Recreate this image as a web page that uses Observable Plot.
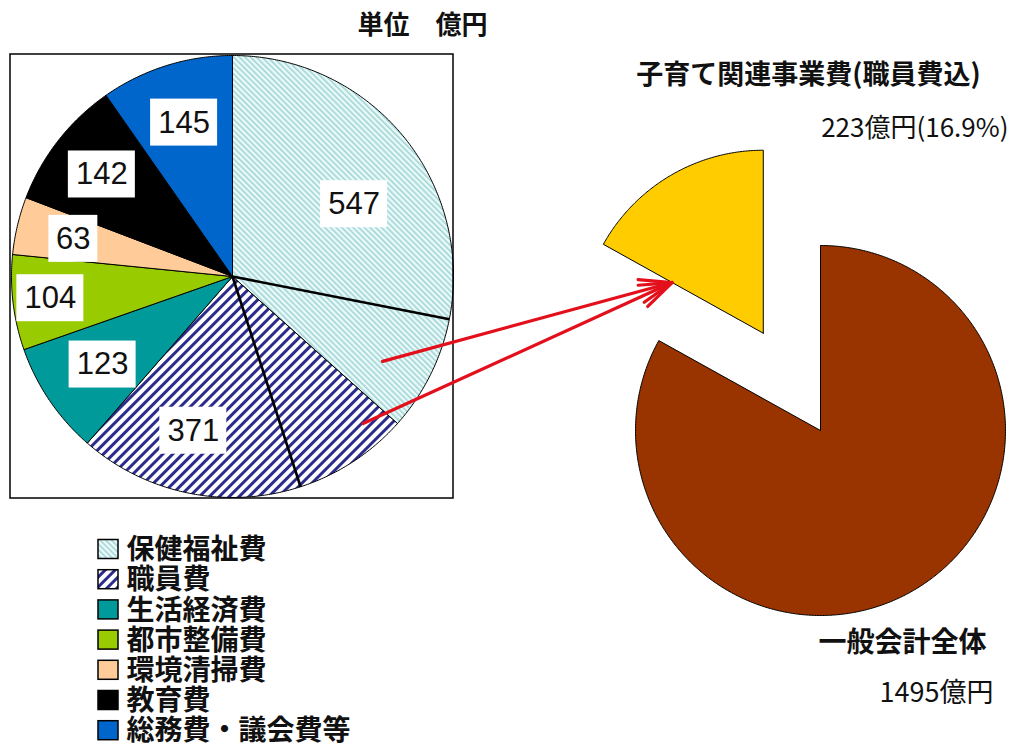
<!DOCTYPE html>
<html><head><meta charset="utf-8">
<script src="https://cdn.jsdelivr.net/npm/d3@7"></script>
<script src="https://cdn.jsdelivr.net/npm/@observablehq/plot@0.6"></script>
<style>
body{margin:0;background:#fff}
#chart{width:1014px;height:747px;position:relative}
</style>
</head><body><div id="chart"></div>
<script>
// ---- data ----
const categories = ["保健福祉費","職員費","生活経済費","都市整備費","環境清掃費","教育費","総務費・議会費等"];
const values = [547, 371, 123, 104, 63, 142, 145];
const colors = ["url(#hatchWelfare)","url(#hatchStaff)","#009a9a","#99cc00","#ffcc99","#000000","#0066cc"];
// 子育て関連 portion: tail of 保健福祉費, head of 職員費
const childFromWelfare = 127;
const childFromStaff = 126;
const rightCategories = ["一般会計全体","子育て関連事業費"];
const rightColors = ["#993300","#ffcc00"];
const unitTitle = "単位　億円";
const childTitle = "子育て関連事業費(職員費込)";
const childLabel = "223億円(16.9%)";
const totalTitle = "一般会計全体";
const totalLabel = "1495億円";

// ---- layout ----
const W = 1014, H = 747;
const LP = {cx: 232, cy: 276, r: 221};
const RP = {cx: 820, cy: 430, r: 185, explode: 0.61};
const labelAt = [0.45, 0.7, 0.5, 0.5, 0.5, 0.5, 0.5];       // fraction along slice
const labelRadius = [0.64, 0.72, 0.71, 0.83, 0.74, 0.75, 0.73];

const total = d3.sum(values);
const child = childFromWelfare + childFromStaff;
const rightValues = [total - child, child];

const pie = d3.pie().sort(null).value(d => d);
const leftArcs = pie(values);
const rightArcs = pie(rightValues);

function pt(cx, cy, r, a) { return {x: cx + r * Math.sin(a), y: cy - r * Math.cos(a)}; }
function wedge(cx, cy, r, a0, a1) {
  const n = Math.max(2, Math.ceil((a1 - a0) / (Math.PI / 360)));
  const pts = [{x: cx, y: cy}];
  for (let i = 0; i <= n; i++) pts.push(pt(cx, cy, r, a0 + (a1 - a0) * i / n));
  pts.push({x: cx, y: cy});
  return pts;
}

const marks = [];
// left pie slices
leftArcs.forEach((a, i) => {
  marks.push(Plot.line(wedge(LP.cx, LP.cy, LP.r, a.startAngle, a.endAngle),
    {x: "x", y: "y", fill: colors[i], stroke: "#000", strokeWidth: 1, strokeLinejoin: "round"}));
});
// dividing lines of 子育て portion
const k = 2 * Math.PI / total;
const childA0 = (values[0] - childFromWelfare) * k;
const childA1 = (values[0] + childFromStaff) * k;
const divs = [childA0, childA1].map(a => ({a, p: pt(LP.cx, LP.cy, LP.r, a)}));
marks.push(Plot.link(divs, {x1: () => LP.cx, y1: () => LP.cy, x2: d => d.p.x, y2: d => d.p.y, stroke: "#000", strokeWidth: 2.6}));
// frame around left pie
marks.push(Plot.rect([0], {x1: LP.cx - LP.r - 1, x2: LP.cx + LP.r, y1: LP.cy - LP.r - 1, y2: LP.cy + LP.r + 1, fill: "none", stroke: "#000", strokeWidth: 1.5}));
// value labels
const labels = leftArcs.map((a, i) => {
  const ang = a.startAngle + (a.endAngle - a.startAngle) * labelAt[i];
  const p = pt(LP.cx, LP.cy, LP.r * labelRadius[i], ang);
  const txt = String(values[i]);
  return {x: p.x, y: p.y, txt, w: 18 * txt.length + 13, h: 47};
});
marks.push(Plot.rect(labels, {x1: d => d.x - d.w / 2, x2: d => d.x + d.w / 2, y1: d => d.y - d.h / 2, y2: d => d.y + d.h / 2, fill: "white"}));
marks.push(Plot.text(labels, {x: "x", y: "y", text: "txt", fontSize: 31, fill: "#111", fontFamily: "'Liberation Sans', Arial, sans-serif", lineAnchor: "middle"}));

// right pie
const ra = rightArcs;
marks.push(Plot.line(wedge(RP.cx, RP.cy, RP.r, ra[0].startAngle, ra[0].endAngle),
  {x: "x", y: "y", fill: rightColors[0], stroke: "#000", strokeWidth: 1, strokeLinejoin: "round"}));
const mid = (ra[1].startAngle + ra[1].endAngle) / 2;
const off = pt(0, 0, RP.r * RP.explode, mid);
const ycx = RP.cx + off.x, ycy = RP.cy + off.y;
marks.push(Plot.line(wedge(ycx, ycy, RP.r - 2, ra[1].startAngle, ra[1].endAngle),
  {x: "x", y: "y", fill: rightColors[1], stroke: "#000", strokeWidth: 1, strokeLinejoin: "round"}));

// arrows from the 子育て portions to the detached wedge
const tip = pt(ycx, ycy, (RP.r - 2) * 0.57, ra[1].startAngle);
const arrowStarts = [
  {a: childA0 + (values[0] * k - childA0) * 0.6, r: 0.78},
  {a: values[0] * k + (childA1 - values[0] * k) * 0.22, r: 0.89}
].map(s => pt(LP.cx, LP.cy, LP.r * s.r, s.a));
marks.push(Plot.arrow(arrowStarts, {x1: "x", y1: "y", x2: () => tip.x, y2: () => tip.y, stroke: "#e3101c", strokeWidth: 3.2, headLength: 16, headAngle: 40}));

// texts
const texts = [
  {t: unitTitle, x: 422, y: 25, anchor: "middle", size: 26, weight: "bold"},
  {t: childTitle, x: 808, y: 75, anchor: "middle", size: 27, weight: "bold"},
  {t: childLabel, x: 1008, y: 128, anchor: "end", size: 26, weight: "normal"},
  {t: totalTitle, x: 818, y: 643, anchor: "start", size: 28, weight: "bold"},
  {t: totalLabel, x: 879, y: 693, anchor: "start", size: 27, weight: "normal"}
];
for (const d of texts) {
  marks.push(Plot.text([d], {x: "x", y: "y", text: "t", textAnchor: d.anchor, fontSize: d.size, fontWeight: d.weight, fill: "#111", lineAnchor: "middle"}));
}

// legend
const rowStep = 30.2, row0 = 549;
const legend = categories.map((c, i) => ({c, fill: colors[i], y: row0 + i * rowStep}));
legend.forEach(d => {
  marks.push(Plot.rect([d], {x1: 98, x2: 118, y1: r => r.y - 9.5, y2: r => r.y + 9.5, fill: d.fill, stroke: "#000", strokeWidth: 1.5}));
});
marks.push(Plot.text([categories.join("\n")], {
  x: 126, y: row0 + (categories.length - 1) / 2 * rowStep, text: d => d,
  textAnchor: "start", fontSize: 28, lineHeight: rowStep / 28, fontWeight: "bold", fill: "#111", lineAnchor: "middle"
}));

const chart = Plot.plot({
  width: W, height: H, margin: 0,
  x: {domain: [0, W], range: [0, W], axis: null},
  y: {domain: [0, H], range: [0, H], axis: null},
  style: {fontFamily: "'Noto Sans CJK JP', sans-serif", background: "white", overflow: "visible"},
  marks
});
chart.insertAdjacentHTML("afterbegin", `<defs>
<pattern id="hatchWelfare" patternUnits="userSpaceOnUse" width="4" height="4" patternTransform="rotate(-45)">
<rect width="4" height="4" fill="#eafafa"/><rect x="0" y="0" width="1.6" height="4" fill="#a2d4d4"/></pattern>
<pattern id="hatchStaff" patternUnits="userSpaceOnUse" width="7" height="7" patternTransform="rotate(45)">
<rect width="7" height="7" fill="#ffffff"/><rect x="0" y="0" width="3" height="7" fill="#2b2b8e"/></pattern>
</defs>`);
document.getElementById("chart").appendChild(chart);
</script>
</body></html>
